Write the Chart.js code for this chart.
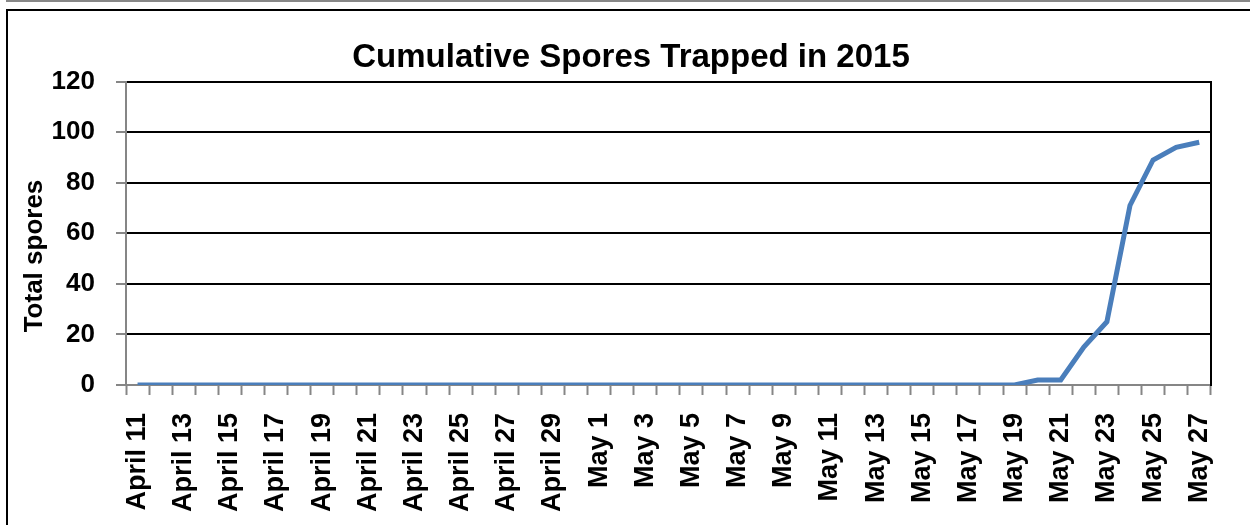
<!DOCTYPE html>
<html>
<head>
<meta charset="utf-8">
<script src="https://cdn.jsdelivr.net/npm/chart.js@4"></script>
<style>
  html, body { margin: 0; padding: 0; background: #fff; }
  body { width: 1250px; height: 525px; position: relative; overflow: hidden; }
  #topBox { position: absolute; left: 6px; top: -20px; width: 1300px; height: 20px;
            border-left: 2px solid #888; border-bottom: 2px solid #888; }
  #frame { position: absolute; left: 6px; top: 9px; width: 1300px; height: 600px;
           border-left: 2px solid #000; border-top: 2px solid #000; }
  #wrap { position: absolute; left: 0; top: 0; width: 1250px; height: 525px; }
</style>
</head>
<body>
<div id="topBox"></div>
<div id="frame"></div>
<div id="wrap"><canvas id="sporeChart"></canvas></div>
<script>
// Days trapped, April 11 to May 27
const dates = [
    'April 11', 'April 12', 'April 13', 'April 14', 'April 15', 'April 16', 'April 17',
    'April 18', 'April 19', 'April 20', 'April 21', 'April 22', 'April 23', 'April 24',
    'April 25', 'April 26', 'April 27', 'April 28', 'April 29', 'April 30',
    'May 1', 'May 2', 'May 3', 'May 4', 'May 5', 'May 6', 'May 7', 'May 8', 'May 9',
    'May 10', 'May 11', 'May 12', 'May 13', 'May 14', 'May 15', 'May 16', 'May 17',
    'May 18', 'May 19', 'May 20', 'May 21', 'May 22', 'May 23', 'May 24', 'May 25',
    'May 26', 'May 27'
];

// Cumulative spore count for each day
const totalSpores = [
    0, 0, 0, 0, 0, 0, 0, 0, 0, 0,
    0, 0, 0, 0, 0, 0, 0, 0, 0, 0,
    0, 0, 0, 0, 0, 0, 0, 0, 0, 0,
    0, 0, 0, 0, 0, 0, 0, 0, 0, 2,
    2, 15, 25, 71, 89, 94, 96
];

const yTicks = [0, 20, 40, 60, 80, 100, 120];

const fontFamily = '"Liberation Sans", Arial, sans-serif';
const axisGray = '#868686';

// Excel puts the axis title a bit below the middle of the plot, so draw it ourselves
const yTitlePlugin = {
    id: 'yTitle',
    afterDraw(chart) {
        const ctx = chart.ctx;
        const area = chart.chartArea;
        ctx.save();
        ctx.translate(35, area.bottom - 129);
        ctx.rotate(-Math.PI / 2);
        ctx.font = 'bold 26px ' + fontFamily;
        ctx.fillStyle = '#000';
        ctx.textAlign = 'center';
        ctx.textBaseline = 'middle';
        ctx.fillText('Total spores', 0, 0);
        ctx.restore();
    }
};

new Chart(document.getElementById('sporeChart'), {
    type: 'line',
    data: {
        labels: dates,
        datasets: [{
            label: 'Total spores',
            data: totalSpores,
            borderColor: '#4a7ebb',
            borderWidth: 5,
            pointRadius: 0,
            tension: 0,
            fill: false
        }]
    },
    options: {
        responsive: true,
        maintainAspectRatio: false,
        animation: false,
        layout: { padding: { left: 12, right: 0, top: 0, bottom: 0 } },
        plugins: {
            legend: { display: false },
            tooltip: { enabled: false },
            title: {
                display: true,
                text: 'Cumulative Spores Trapped in 2015',
                color: '#000',
                font: { family: fontFamily, size: 33, weight: 'bold' },
                padding: { top: 38, bottom: 4 }
            }
        },
        scales: {
            x: {
                type: 'category',
                offset: true,
                grid: {
                    offset: true,
                    drawOnChartArea: false,
                    tickLength: 10,
                    tickColor: axisGray,
                    tickWidth: 2
                },
                border: { color: axisGray, width: 2 },
                ticks: {
                    autoSkip: false,
                    minRotation: 90,
                    maxRotation: 90,
                    padding: 18,
                    color: '#000',
                    font: { family: fontFamily, size: 27, weight: 'bold' },
                    // only every other day gets a label
                    callback: (value, index) => index % 2 === 0 ? dates[index] : ''
                },
                afterFit: (axis) => { axis.height = 140; }
            },
            y: {
                min: 0,
                max: 120,
                afterBuildTicks: (axis) => { axis.ticks = yTicks.map(v => ({ value: v })); },
                grid: {
                    color: '#000',
                    lineWidth: 2,
                    tickLength: 10,
                    tickColor: axisGray,
                    tickWidth: 2
                },
                border: { color: axisGray, width: 2 },
                ticks: {
                    padding: 21,
                    color: '#000',
                    font: { family: fontFamily, size: 26, weight: 'bold' }
                },
                afterFit: (axis) => { axis.width = 114; }
            },
            yRight: {
                position: 'right',
                min: 0,
                max: 120,
                grid: { display: false },
                border: { display: true, color: '#000', width: 2 },
                ticks: { display: false },
                afterFit: (axis) => { axis.width = 36; }
            }
        }
    },
    plugins: [yTitlePlugin]
});
</script>
</body>
</html>
